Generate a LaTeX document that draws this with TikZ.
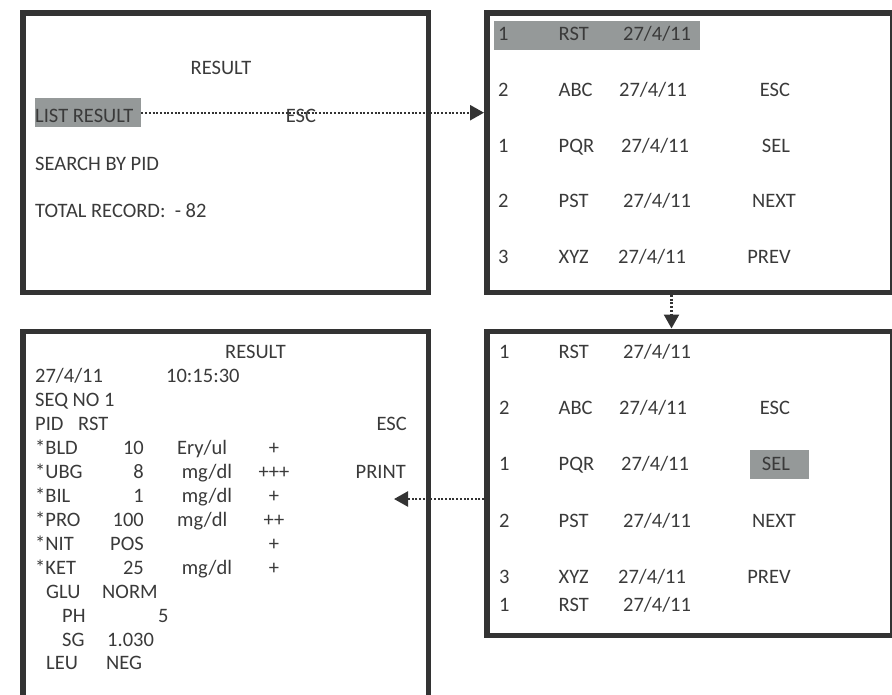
\documentclass[tikz,border=0pt]{standalone}
\usepackage{fontspec}
\setmainfont{Carlito}
\usetikzlibrary{arrows.meta}
\definecolor{bordc}{HTML}{333333}
\definecolor{txtc}{HTML}{3A3A3A}
\definecolor{hlc}{HTML}{959999}
\begin{document}
\begin{tikzpicture}[x=1pt,y=-1pt,
  screen/.style={draw=bordc,line width=5.5pt,inner sep=0pt,anchor=north west},
  t/.style={text=txtc,inner sep=0pt,anchor=base west,font=\fontsize{20.5}{24}\selectfont},
  tc/.style={t,anchor=base},
  tr/.style={t,anchor=base east},
  hl/.style={fill=hlc,inner sep=0pt,anchor=north west},
  dotline/.style={draw=bordc,line width=2.4pt,dash pattern=on 2pt off 1.7pt,
    -{Triangle[length=14pt,width=15pt]}}]
\useasboundingbox (0,0) rectangle (892,694);
% screens
\node[screen,minimum width=405.5pt,minimum height=279.5pt] (s1) at (20,10) {};
\node[screen,minimum width=405.5pt,minimum height=279.5pt] (s2) at (484,10) {};
\node[screen,minimum width=405.5pt,minimum height=304pt] (s4) at (484,328.5) {};
\node[screen,minimum width=405.5pt,minimum height=372pt] (s3) at (20,328.5) {};
% highlights
\node[hl,minimum width=106pt,minimum height=29pt] (lr) at (35,98) {};
\node[hl,minimum width=206pt,minimum height=29pt] (h2) at (494,21) {};
\node[hl,minimum width=59pt,minimum height=29pt] (h4) at (750,450) {};
% screen 1
\node[tc] (r1) at (221,74) {RESULT};
\node[t] (l1) at (35,122) {LIST RESULT};
\node[t] (l2) at (35,170) {SEARCH BY PID};
\node[t] (l3) at (35,217) {TOTAL RECORD:\ \ - 82};
\node[tc] (e1) at (301,122) {ESC};
% screen 2
\foreach \n/\a/\b/\d/\y [count=\i] in {1/RST/623/{}/40, 2/ABC/619/ESC/96, 1/PQR/621/SEL/152, 2/PST/623/NEXT/207, 3/XYZ/618/PREV/263}{
  \node[t] (b2n\i) at (498,\y) {\n};
  \node[t] (b2c\i) at (558.5,\y) {\a};
  \node[t] (b2d\i) at (\b,\y) {27/4/11};
}
\node[tc] (b2k2) at (775,96) {ESC};
\node[tc] (b2k3) at (776,152) {SEL};
\node[tc] (b2k4) at (774,207) {NEXT};
\node[tc] (b2k5) at (769,263) {PREV};
% screen 4
\foreach \n/\a/\b/\y [count=\i] in {1/RST/623/358, 2/ABC/619/414, 1/PQR/621/470, 2/PST/623/527, 3/XYZ/618/583, 1/RST/623/611}{
  \node[t] (b4n\i) at (499,\y) {\n};
  \node[t] (b4c\i) at (558.5,\y) {\a};
  \node[t] (b4d\i) at (\b,\y) {27/4/11};
}
\node[tc] (b4k2) at (775,414) {ESC};
\node[tc] (b4k3) at (776,470) {SEL};
\node[tc] (b4k4) at (774,527) {NEXT};
\node[tc] (b4k5) at (769,583) {PREV};
% screen 3
\node[tc] (r3) at (255.5,358) {RESULT};
\node[t] (c1) at (35,382) {27/4/11};
\node[t] (c1b) at (166,382) {10:15:30};
\node[t] (c2) at (35,406) {SEQ NO 1};
\node[t] (c3) at (35,430) {PID};
\node[t] (c3b) at (78,430) {RST};
\node[tr] (c3e) at (407,430) {ESC};
\node[tr] (c4e) at (406,478) {PRINT};
\foreach \nm/\v/\u/\p/\y [count=\i] in {*BLD/10/Ery\slash ul/+/454, *UBG/8/\ mg\slash dl/+++/478, *BIL/1/\ mg\slash dl/+/502, *PRO/100/mg\slash dl/++/526, *NIT/POS/{}/+/550, *KET/25/\ mg\slash dl/+/574}{
  \node[t] (d\i) at (35,\y) {\nm};
  \node[tr] (dv\i) at (144,\y) {\v};
  \node[t] (du\i) at (177,\y) {\u};
  \node[tc] (dp\i) at (274,\y) {\p};
}
\node[t] (g1) at (46,598) {GLU};
\node[t] (g1v) at (102,598) {NORM};
\node[t] (g2) at (62,622) {PH};
\node[t] (g2v) at (158,622) {5};
\node[t] (g3) at (62,646) {SG};
\node[t] (g3v) at (107,646) {1.030};
\node[t] (g4) at (46,669) {LEU};
\node[t] (g4v) at (106,669) {NEG};
% connectors
\coordinate (t3) at (394,499);
\draw[dotline] (lr.east) -- (lr.east -| s2.west);
\draw[dotline] ([xshift=-18pt]s2.south) -- ([xshift=-18pt]s4.north);
\draw[dotline] (t3 -| s4.west) -- (t3);
\end{tikzpicture}
\end{document}
